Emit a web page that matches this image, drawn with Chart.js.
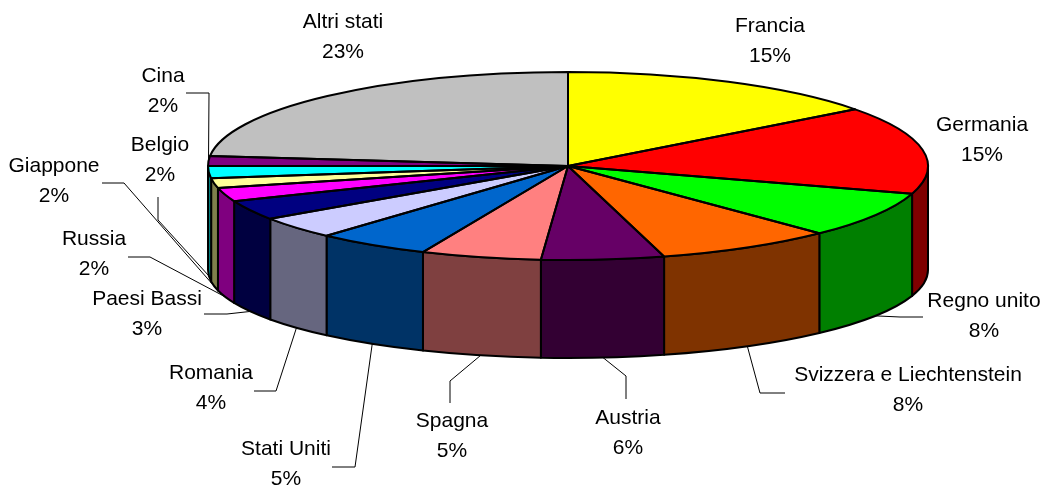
<!DOCTYPE html>
<html>
<head>
<meta charset="utf-8">
<title>Stati</title>
<script src="https://cdn.jsdelivr.net/npm/chart.js@4"></script>
<style>
    html, body { margin: 0; padding: 0; background: #fff; }
    canvas { display: block; }
</style>
</head>
<body>
<canvas id="graficoStati" width="1042" height="487"></canvas>
<script>
var stati = ['Francia', 'Germania', 'Regno unito', 'Svizzera e Liechtenstein', 'Austria', 'Spagna', 'Stati Uniti',
    'Romania', 'Paesi Bassi', 'Russia', 'Giappone', 'Belgio', 'Cina', 'Altri stati'];
var percentuali = [14.7, 15.05, 7.95, 8.0, 5.5, 5.4, 5.1, 3.8, 3.4, 2.35, 1.65, 2.1, 1.7, 23.3];
var colori = ['#ffff00', '#ff0000', '#00ff00', '#ff6600', '#660066', '#ff8080', '#0066cc',
    '#ccccff', '#000080', '#ff00ff', '#ffff99', '#00ffff', '#800080', '#c0c0c0'];

// ellisse della faccia superiore e di quella inferiore
var faccia = { cx: 568, cy: 166, rx: 360, ry: 94 };
var fondo = { cy: 270, ry: 88 };

// posizione delle etichette, e gomiti delle linee guida (dall'etichetta verso la fetta)
var posEtichette = [
    { x: 770, y: 26 },
    { x: 982, y: 125 },
    { x: 984, y: 301, guida: [[923, 317], [900, 317]] },
    { x: 908, y: 375, guida: [[785, 393], [760, 393]] },
    { x: 628, y: 418, guida: [[626, 399], [626, 376]] },
    { x: 452, y: 421, guida: [[450, 403], [450, 381]] },
    { x: 286, y: 449, guida: [[332, 467], [355, 467]] },
    { x: 211, y: 373, guida: [[254, 391], [276, 391]] },
    { x: 147, y: 299, guida: [[204, 314], [227, 314]] },
    { x: 94, y: 239, guida: [[128, 257], [150, 257]] },
    { x: 54, y: 166, guida: [[102, 183], [124, 183]] },
    { x: 160, y: 145, guida: [[158, 197], [158, 220]] },
    { x: 163, y: 76, guida: [[186, 93], [209, 93]] },
    { x: 343, y: 22 }
];

function scurisci(hex) {
    var r = parseInt(hex.substr(1, 2), 16) >> 1,
        g = parseInt(hex.substr(3, 2), 16) >> 1,
        b = parseInt(hex.substr(5, 2), 16) >> 1;
    return 'rgb(' + r + ',' + g + ',' + b + ')';
}

var torta3d = {
    id: 'torta3d',
    beforeDatasetsDraw: function (chart) {
        var ctx = chart.ctx,
            archi = chart.getDatasetMeta(0).data;

        // pareti laterali, solo la meta' davanti
        ctx.save();
        ctx.lineWidth = 2;
        ctx.lineJoin = 'round';
        ctx.strokeStyle = '#000';
        archi.forEach(function (arco, i) {
            var da = Math.max(arco.startAngle, 0),
                a = Math.min(arco.endAngle, Math.PI);
            if (a <= da) {
                return;
            }
            ctx.beginPath();
            ctx.ellipse(faccia.cx, faccia.cy, faccia.rx, faccia.ry, 0, da, a);
            ctx.ellipse(faccia.cx, fondo.cy, faccia.rx, fondo.ry, 0, a, da, true);
            ctx.closePath();
            ctx.fillStyle = scurisci(colori[i]);
            ctx.fill();
            ctx.stroke();
        });
        ctx.restore();

        // il cerchio di Chart.js diventa l'ellisse della faccia
        var primo = archi[0],
            raggio = primo.outerRadius;
        ctx.save();
        ctx.translate(faccia.cx, faccia.cy);
        ctx.scale(faccia.rx / raggio, faccia.ry / raggio);
        ctx.translate(-primo.x, -primo.y);
    },
    afterDatasetsDraw: function (chart) {
        var ctx = chart.ctx,
            archi = chart.getDatasetMeta(0).data;

        ctx.restore();

        // bordi qui e non nel dataset, altrimenti lo spessore si deforma
        ctx.save();
        ctx.lineWidth = 2;
        ctx.lineJoin = 'round';
        ctx.strokeStyle = '#000';
        archi.forEach(function (arco) {
            ctx.beginPath();
            ctx.moveTo(faccia.cx, faccia.cy);
            ctx.ellipse(faccia.cx, faccia.cy, faccia.rx, faccia.ry, 0, arco.startAngle, arco.endAngle);
            ctx.closePath();
            ctx.stroke();
        });
        ctx.restore();

        disegnaEtichette(ctx, archi);
    }
};

function disegnaEtichette(ctx, archi) {
    ctx.save();
    ctx.font = '21px "Liberation Sans", Arial, sans-serif';
    ctx.textAlign = 'center';
    ctx.textBaseline = 'middle';
    ctx.fillStyle = '#000';
    ctx.strokeStyle = '#000';
    ctx.lineWidth = 1;

    archi.forEach(function (arco, i) {
        var pos = posEtichette[i];

        ctx.fillText(stati[i], pos.x, pos.y);
        ctx.fillText(Math.round(percentuali[i]) + '%', pos.x, pos.y + 30);

        if (pos.guida) {
            // l'attacco sta a meta' della fetta, sul bordo visibile
            var medio = (arco.startAngle + arco.endAngle) / 2,
                davanti = Math.sin(medio) > 0,
                ax = faccia.cx + faccia.rx * Math.cos(medio),
                ay = davanti ? fondo.cy + fondo.ry * Math.sin(medio) : faccia.cy + faccia.ry * Math.sin(medio);

            ctx.beginPath();
            ctx.moveTo(pos.guida[0][0], pos.guida[0][1]);
            ctx.lineTo(pos.guida[1][0], pos.guida[1][1]);
            ctx.lineTo(ax, ay);
            ctx.stroke();
        }
    });
    ctx.restore();
}

new Chart(document.getElementById('graficoStati').getContext('2d'), {
    type: 'pie',
    plugins: [torta3d],
    data: {
        labels: stati,
        datasets: [{
            data: percentuali,
            backgroundColor: colori,
            borderWidth: 0
        }]
    },
    options: {
        responsive: false,
        animation: false,
        plugins: {
            legend: { display: false },
            tooltip: { enabled: false }
        }
    }
});
</script>
</body>
</html>
